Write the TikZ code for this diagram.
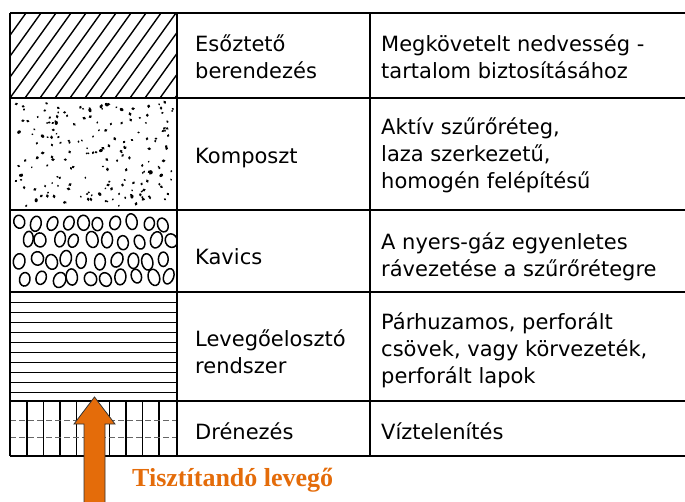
\documentclass[tikz,border=0pt]{standalone}
\usepackage{fontspec}
\setmainfont{Liberation Serif}
\setsansfont{DejaVu Sans}
\usetikzlibrary{calc}
\definecolor{airorange}{RGB}{228,108,10}

\begin{document}
\begin{tikzpicture}[x=1pt, y=-1pt,
    layertext/.style={anchor=west, align=left, inner sep=0pt,
                      font=\sffamily\fontsize{21}{27}\selectfont},
    gridline/.style={line width=2.4pt},
    fillline/.style={line width=1.2pt},
]
    \useasboundingbox (0,0) rectangle (685,501);

    % layer fills in the left column
    \begin{scope}
        \clip (10,13) rectangle (177,98);
        \foreach \x in {-80,-65,...,180}
            \draw[fillline, line width=1.4pt] (\x,98) -- ++(61,-85);
    \end{scope}
    \pgfmathsetseed{17}
    \foreach \i in {1,...,190} {
        \pgfmathsetmacro\px{15+158*rnd}
        \pgfmathsetmacro\py{102+104*rnd}
        \pgfmathsetmacro\pr{0.8+0.8*rnd}
        \pgfmathsetmacro\ang{180*rnd}
        \fill[shift={(\px,\py)}, rotate=\ang]
            (0,0) ellipse[x radius=\pr pt, y radius=1.3*\pr pt];
    }
    \begin{scope}
        \clip (10,210) rectangle (177,292);
        \foreach \row/\yy in {0/223,1/241,2/260,3/278} {
            \foreach \col in {0,...,9} {
                \pgfmathsetmacro\px{19+16*\col+7*mod(\row,2)+5*(rnd-0.5)}
                \pgfmathsetmacro\py{\yy+4*(rnd-0.5)}
                \pgfmathsetmacro\ang{50*(rnd-0.5)}
                \pgfmathsetmacro\rx{4.8+1.4*rnd}
                \pgfmathsetmacro\ry{6.5+1.8*rnd}
                \draw[fillline, line width=1.5pt, shift={(\px,\py)}, rotate=\ang]
                    (0,0) ellipse[x radius=\rx pt, y radius=\ry pt];
            }
        }
    \end{scope}
    \foreach \y in {302,312,...,392}
        \draw[fillline, line width=0.9pt] (10,\y) -- (177,\y);
    \foreach \x in {27,43.5,...,162}
        \draw[fillline] (\x,401) -- (\x,456);
    \foreach \y in {420,437}
        \draw[thin, black!60, dash pattern=on 6pt off 3pt] (10,\y) -- (177,\y);

    % table grid
    \foreach \y in {13,98,210,292,401,456}
        \draw[gridline] (10,\y) -- (685,\y);
    \foreach \x in {10,177,370}
        \draw[gridline] (\x,13) -- (\x,456);

    % layer names
    \node[layertext] (eszname) at (195,57) {Esőztető\\berendezés};
    \node[layertext] (kompname) at (195,158) {Komposzt};
    \node[layertext] (kavname) at (195,257) {Kavics};
    \node[layertext] (levname) at (195,352) {Levegőelosztó\\rendszer};
    \node[layertext] (drenname) at (195,431) {Drénezés};

    % layer roles
    \node[layertext] (eszrole) at (381,57) {Megkövetelt nedvesség -\\tartalom biztosításához};
    \node[layertext] (komprole) at (381,155) {Aktív szűrőréteg,\\laza szerkezetű,\\homogén felépítésű};
    \node[layertext] (kavrole) at (381,257) {A nyers-gáz egyenletes\\rávezetése a szűrőrétegre};
    \node[layertext] (levrole) at (381,350) {Párhuzamos, perforált\\csövek, vagy körvezeték,\\perforált lapok};
    \node[layertext] (drenrole) at (381,431) {Víztelenítés};

    % incoming air
    \coordinate (airtip) at (94.5,397);
    \coordinate (airtail) at (94.5,506);
    \draw[fill=airorange, draw=black!80, line width=0.8pt]
        ($(airtail)+(-10.5,0)$) -- (84,424) -- (74,424) -- (airtip)
        -- (115,424) -- (105,424) -- ($(airtail)+(10.5,0)$);
    \node[anchor=base west, inner sep=0pt, text=airorange,
          font=\bfseries\fontsize{26}{30}\selectfont] (airlabel) at (132,486) {Tisztítandó levegő};
\end{tikzpicture}
\end{document}
